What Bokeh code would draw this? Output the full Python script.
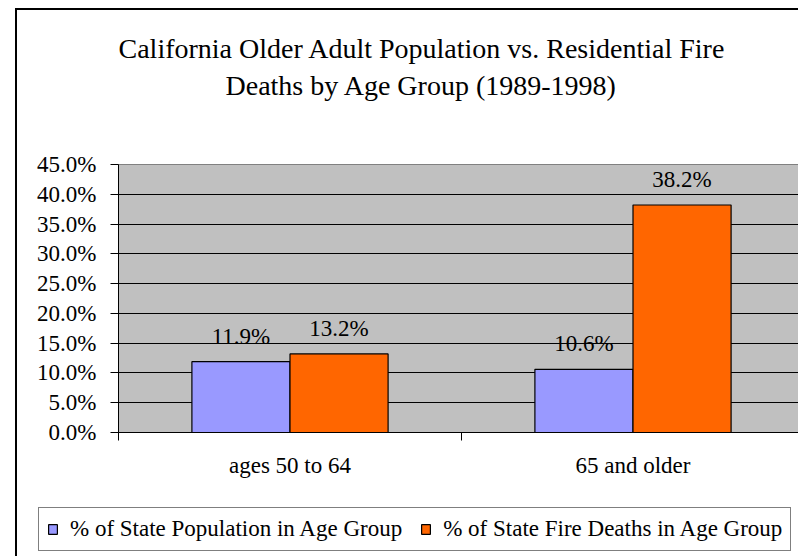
from bokeh.plotting import figure
from bokeh.models import (ColumnDataSource, Range1d, FixedTicker, PrintfTickFormatter,
                          LabelSet, Title, Legend, LegendItem)
from bokeh.core.properties import value
from bokeh.embed import file_html
from bokeh.resources import INLINE

# ---------------- data ----------------
categories = ["ages 50 to 64", "65 and older"]
population_pct = [11.9, 10.6]
fire_deaths_pct = [13.2, 38.2]
series_names = ["% of State Population in Age Group",
                "% of State Fire Deaths in Age Group"]
y_ticks = [0, 5, 10, 15, 20, 25, 30, 35, 40, 45]
title_lines = ["California Older Adult Population vs. Residential Fire",
               "Deaths by Age Group (1989-1998)"]

# ---------------- style ----------------
FONT = "Liberation Serif"
BLUE = "#9999FF"
ORANGE = "#FF6600"
GRAY = "#C0C0C0"
BAR_W = 0.286

centers = [i + 0.5 for i in range(len(categories))]
bounds = [i for i in range(len(categories) + 1)]
x_pop = [c - BAR_W / 2 for c in centers]
x_fire = [c + BAR_W / 2 for c in centers]

# ---------------- main chart ----------------
p = figure(width=783, height=490,
           x_range=Range1d(0, 682 / 343), y_range=Range1d(0, 45),
           output_backend="svg", toolbar_location=None,
           min_border_left=101, min_border_right=0,
           min_border_top=154, min_border_bottom=68,
           background_fill_color=GRAY, border_fill_color="white",
           outline_line_color="#808080", outline_line_width=1)
p.styles = {"margin-left": "15px", "margin-top": "8px",
            "border-left": "2px solid black", "border-top": "2px solid black"}

p.xgrid.visible = False
p.ygrid.ticker = FixedTicker(ticks=y_ticks)
p.ygrid.grid_line_color = "black"
p.ygrid.grid_line_width = 1

p.yaxis.ticker = FixedTicker(ticks=y_ticks)
p.yaxis.formatter = PrintfTickFormatter(format="%.1f%%")
p.yaxis.major_tick_in = 0
p.yaxis.major_tick_out = 8
p.yaxis.minor_tick_line_color = None
p.yaxis.axis_line_color = "black"
p.yaxis.major_tick_line_color = "black"
p.yaxis.major_label_standoff = 14
p.yaxis.major_label_text_font = FONT
p.yaxis.major_label_text_font_size = "23px"
p.yaxis.major_label_text_color = "black"

p.xaxis.ticker = FixedTicker(ticks=centers, minor_ticks=bounds)
p.xaxis.major_label_overrides = {c: name for c, name in zip(centers, categories)}
p.xaxis.major_tick_in = 0
p.xaxis.major_tick_out = 0
p.xaxis.minor_tick_in = 0
p.xaxis.minor_tick_out = 8
p.xaxis.minor_tick_line_color = "black"
p.xaxis.axis_line_color = "black"
p.xaxis.major_label_standoff = 12
p.xaxis.major_label_text_font = FONT
p.xaxis.major_label_text_font_size = "23px"
p.xaxis.major_label_text_color = "black"

r_pop = p.vbar(x=x_pop, top=population_pct, width=BAR_W, bottom=0,
               fill_color=BLUE, line_color="black", line_width=1.2)
r_fire = p.vbar(x=x_fire, top=fire_deaths_pct, width=BAR_W, bottom=0,
                fill_color=ORANGE, line_color="black", line_width=1.2)

lab_src = ColumnDataSource(dict(
    x=x_pop + x_fire,
    y=population_pct + fire_deaths_pct,
    t=[f"{v:.1f}%" for v in population_pct + fire_deaths_pct]))
p.add_layout(LabelSet(x="x", y="y", text="t", source=lab_src, y_offset=18,
                      text_align="center", text_baseline="alphabetic",
                      text_font=value(FONT), text_font_size="23px",
                      text_color="black"))

# blank spacer between plot area and title
p.add_layout(Title(text="\u00a0", standoff=59, text_font_size="1px"), "above")

# title: two lines (the line nearest the frame is added first)
for line, off in zip(reversed(title_lines), [107, 0]):
    p.add_layout(Title(text=line, align="left", offset=off, standoff=4,
                       text_font=FONT, text_font_size="28px",
                       text_font_style="normal", text_color="black"), "above")

# ---------------- legend strip (separate root, below the chart) ----------------
pl = figure(width=783, height=58, x_range=Range1d(0, 2), y_range=Range1d(0, 45),
            output_backend="svg", toolbar_location=None, min_border=0,
            x_axis_location=None, y_axis_location=None,
            outline_line_color=None, background_fill_color="white",
            border_fill_color="white")
pl.styles = {"margin-left": "15px", "border-left": "2px solid black"}
pl.grid.visible = False
# hidden proxies: they only provide the legend swatches
k_pop = pl.vbar(x=x_pop, top=population_pct, bottom=0, width=BAR_W,
                fill_color=BLUE, line_color="black", line_width=1.2, visible=False)
k_fire = pl.vbar(x=x_fire, top=fire_deaths_pct, bottom=0, width=BAR_W,
                 fill_color=ORANGE, line_color="black", line_width=1.2, visible=False)
legend = Legend(items=[LegendItem(label=series_names[0], renderers=[k_pop]),
                       LegendItem(label=series_names[1], renderers=[k_fire])],
                orientation="horizontal", location=(21, 5),
                border_line_color="black", border_line_width=1,
                background_fill_color="white", background_fill_alpha=1,
                inactive_fill_alpha=0,
                label_text_font=FONT, label_text_font_size="23px",
                label_text_color="black",
                glyph_width=11, glyph_height=12, label_standoff=12,
                spacing=18, padding=8, margin=0)
pl.add_layout(legend)

open("out.html", "w").write(file_html([p, pl], INLINE))
